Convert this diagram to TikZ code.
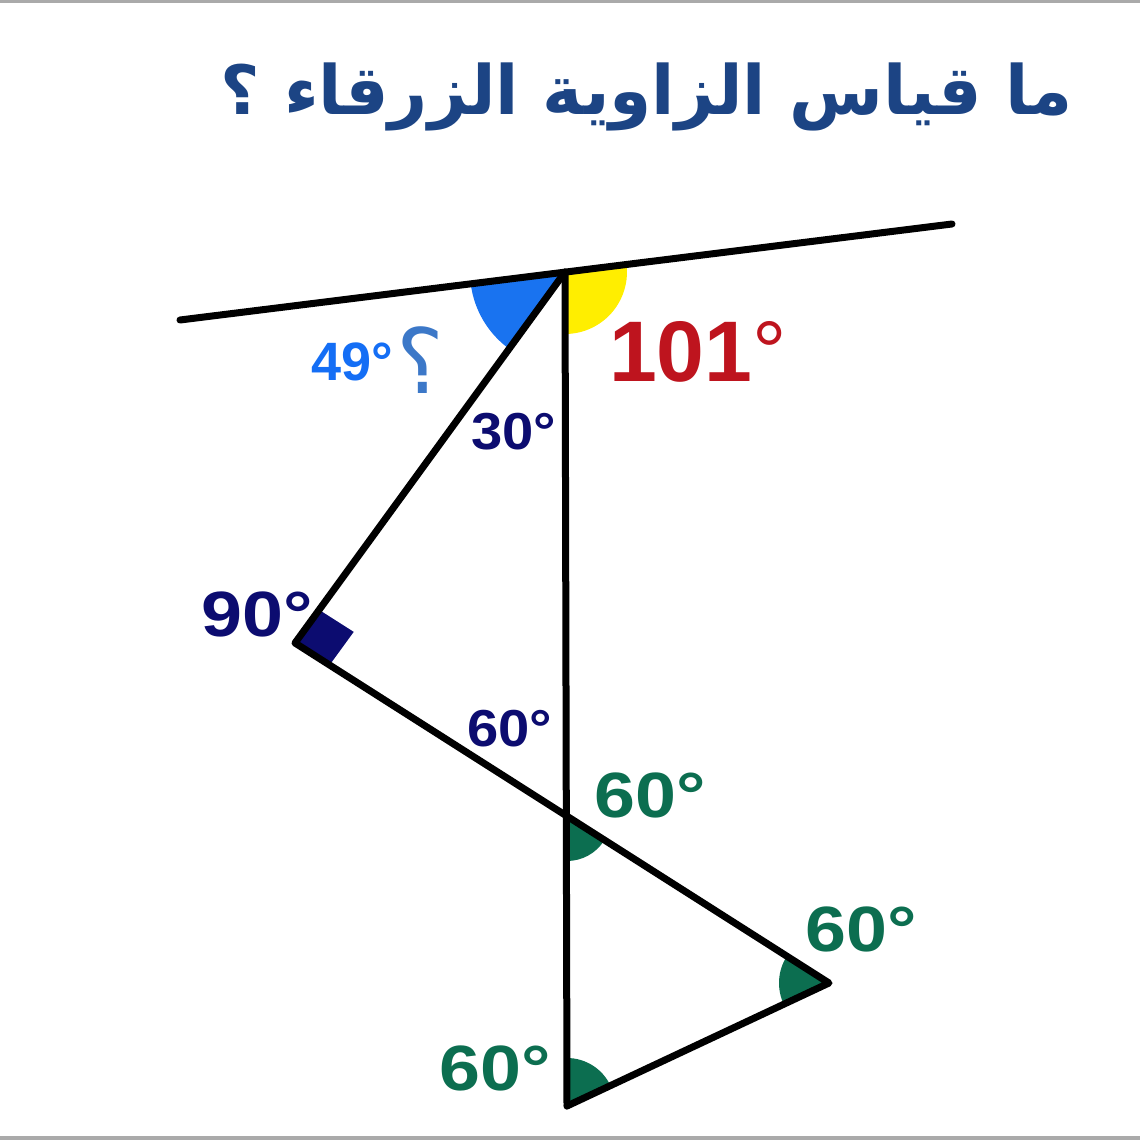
\documentclass[tikz,border=0pt]{standalone}
\usepackage{fontspec}
\usepackage{graphicx}
\setmainfont{Liberation Sans}
\newfontfamily\arabicfont[Script=Arabic]{DejaVu Sans}
\TeXXeTstate=1
\usetikzlibrary{calc,angles}
\definecolor{titleblue}{RGB}{28,68,132}
\definecolor{sectorblue}{RGB}{25,115,240}
\definecolor{sectoryellow}{RGB}{255,238,0}
\definecolor{labelblue}{RGB}{20,110,245}
\definecolor{qblue}{RGB}{60,120,200}
\definecolor{darkred}{RGB}{190,20,30}
\definecolor{navy}{RGB}{12,12,112}
\definecolor{darkgreen}{RGB}{12,110,80}
\definecolor{framegray}{RGB}{170,170,170}
\tikzset{
  seg/.style={line width=7pt, line join=round, line cap=round, black},
  biglabel/.style={inner sep=0pt, text=darkgreen, font=\bfseries\fontsize{64}{64}\selectfont},
  navylabel/.style={inner sep=0pt, text=navy, font=\bfseries\fontsize{52}{52}\selectfont},
}
\begin{document}
\begin{tikzpicture}[x=1pt,y=1pt]
\useasboundingbox (0,0) rectangle (1140,-1140);
\fill[framegray] (0,0) rectangle (1140,-3);
\fill[framegray] (0,-1136) rectangle (1140,-1140);

% points
\coordinate (L) at (180,-320);
\coordinate (R) at (952,-224);
\coordinate (T) at (565,-272);
\coordinate (C) at (295,-643);
\coordinate (M) at (567,-817);
\coordinate (D) at (829,-983);
\coordinate (B) at (567,-1106);

% sectors
\pic[fill=sectorblue, angle radius=95pt] {angle = L--T--C};
\pic[fill=sectoryellow, angle radius=62pt] {angle = B--T--R};
\pic[fill=darkgreen, angle radius=44pt] {angle = B--M--D};
\pic[fill=darkgreen, angle radius=50pt] {angle = M--D--B};
\pic[fill=darkgreen, angle radius=48pt] {angle = D--B--T};

% right-angle square
\coordinate (S1) at ($(C)!41pt!(T)$);
\coordinate (S2) at ($(C)!41pt!(D)$);
\fill[navy] (C) -- (S1) -- ($(S1)+(S2)-(C)$) -- (S2) -- cycle;

% lines
\draw[seg] (L) -- (R);
\draw[seg] (T) -- (B);
\draw[seg] (T) -- (C) -- (D) -- (B);

% title
\node[inner sep=0pt, text=titleblue] (title) at (647,-97)
  {\arabicfont\bfseries\fontsize{68}{68}\selectfont\beginR ما قياس الزاوية الزرقاء ؟\endR};

% labels
\node[inner sep=0pt, text=labelblue, font=\bfseries\fontsize{54}{54}\selectfont] (l49) at (352,-362) {49°};
\node[inner sep=0pt, text=qblue] (lq) at (420,-360) {\arabicfont\fontsize{90}{90}\selectfont ؟};
\node[inner sep=0pt, text=darkred, font=\fontsize{86}{86}\selectfont] (l101) at (698,-352) {\textbf{101}°};
\node[navylabel] (l30) at (514,-432) {\scalebox{1.08}[1]{30°}};
\node[inner sep=0pt, text=navy, font=\bfseries\fontsize{64}{64}\selectfont] (l90) at (257,-614) {\scalebox{1.15}[1]{90°}};
\node[navylabel] (l60n) at (510,-729) {\scalebox{1.08}[1]{60°}};
\node[biglabel] (l60a) at (650,-795) {\scalebox{1.15}[1]{60°}};
\node[biglabel] (l60b) at (861,-929) {\scalebox{1.15}[1]{60°}};
\node[biglabel] (l60c) at (495,-1068) {\scalebox{1.15}[1]{60°}};
\end{tikzpicture}
\end{document}
